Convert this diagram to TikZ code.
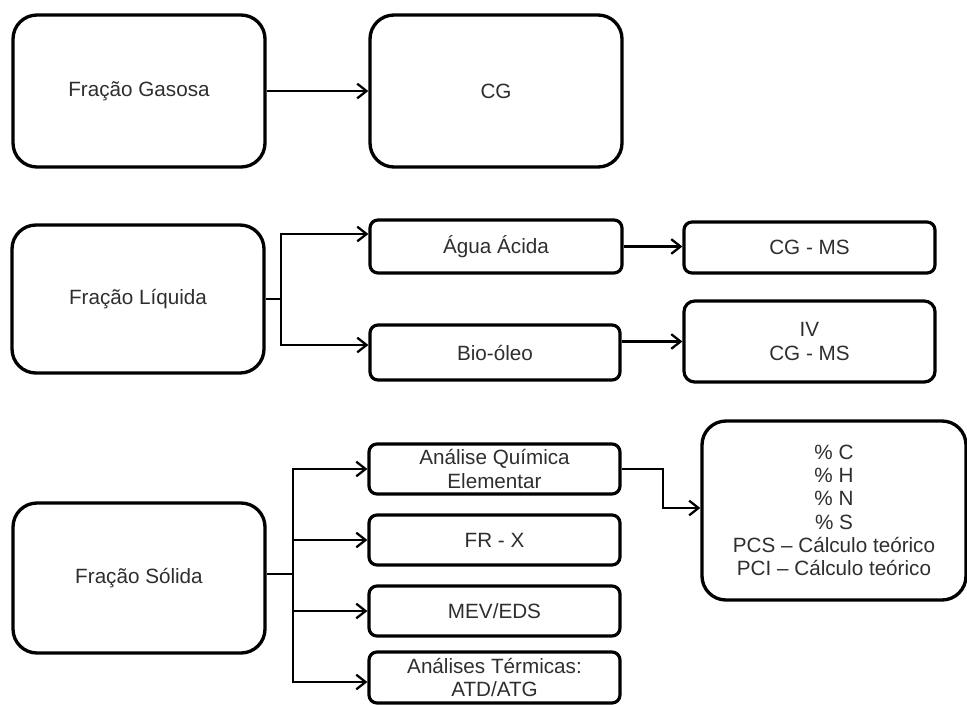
\documentclass[tikz,border=0pt]{standalone}
\usepackage{fontspec}
\setmainfont{Liberation Sans}
\usetikzlibrary{arrows.meta}

\begin{document}
\begin{tikzpicture}[x=0.75pt, y=-0.75pt,
  every node/.style={font=\fontsize{15.5}{17.5}\selectfont, align=center, inner sep=1pt, text=black!82},
  bigbox/.style={draw=black, line width=2.5pt, rounded corners=18pt},
  smallbox/.style={draw=black, line width=2.4pt, rounded corners=6pt},
  conn/.style={line width=1.7pt, -{Straight Barb[length=7pt,width=11pt,line width=1.7pt]}},
  plain/.style={line width=1.7pt}]

\useasboundingbox (0,0) rectangle (967,704);

% gaseous fraction
\node[bigbox, minimum width=189pt, minimum height=114pt] (gas) at (139,91) {Fração Gasosa};
\node[bigbox, minimum width=189pt, minimum height=114pt] (cg) at (496,91) {CG};

% liquid fraction
\node[bigbox, minimum width=189pt, minimum height=111pt] (liq) at (138,299) {Fração Líquida};
\node[smallbox, minimum width=189pt, minimum height=39.75pt] (agua) at (496,246.5) {Água Ácida};
\node[smallbox, minimum width=187.5pt, minimum height=41.25pt] (bio) at (495,352.5) {Bio-óleo};
\node[smallbox, minimum width=188.25pt, minimum height=38.25pt] (cgms) at (809.5,247.5) {CG - MS};
\node[smallbox, rounded corners=8pt, minimum width=188.25pt, minimum height=60.75pt] (iv) at (809.5,341.5) {IV\\CG - MS};

% solid fraction
\node[bigbox, minimum width=189pt, minimum height=112.5pt] (sol) at (139,578) {Fração Sólida};
\node[smallbox, minimum width=188.25pt, minimum height=37.5pt] (ana) at (494.5,469) {Análise Química\\Elementar};
\node[smallbox, minimum width=188.25pt, minimum height=37.5pt] (frx) at (494.5,540) {FR - X};
\node[smallbox, minimum width=188.25pt, minimum height=37.5pt] (mev) at (494.5,611) {MEV/EDS};
\node[smallbox, minimum width=188.25pt, minimum height=38.25pt] (ter) at (494.5,677.5) {Análises Térmicas:\\ATD/ATG};
\node[bigbox, minimum width=198pt, minimum height=134.25pt] (res) at (834,510.5)
  {\% C\\\% H\\\% N\\\% S\\PCS – Cálculo teórico\\PCI – Cálculo teórico};

% junction points
\coordinate (lj) at (281,299);
\coordinate (ljt) at (281,234);
\coordinate (ljb) at (281,345);
\coordinate (sj) at (293,574);
\coordinate (sjb) at (293,682);
\coordinate (ak) at (663,508);

% connectors
\draw[conn] (gas.east) -- (cg.west);

\draw[plain] (liq.east |- lj) -- (lj);
\draw[conn] (lj) |- (ljt -| agua.west);
\draw[conn] (lj) |- (ljb -| bio.west);
\draw[conn] (agua.east) -- (agua.east -| cgms.west);
\draw[conn] (iv.west -| bio.east) -- (iv.west);

\draw[plain] (sj -| sol.east) -- (sj);
\draw[conn] (sj) |- (ana.west);
\draw[conn] (sj) |- (frx.west);
\draw[conn] (sj) |- (mev.west);
\draw[conn] (sj) |- (sjb -| ter.west);
\draw[conn] (ana.east) -| (ak) -- (ak -| res.west);

\end{tikzpicture}
\end{document}
